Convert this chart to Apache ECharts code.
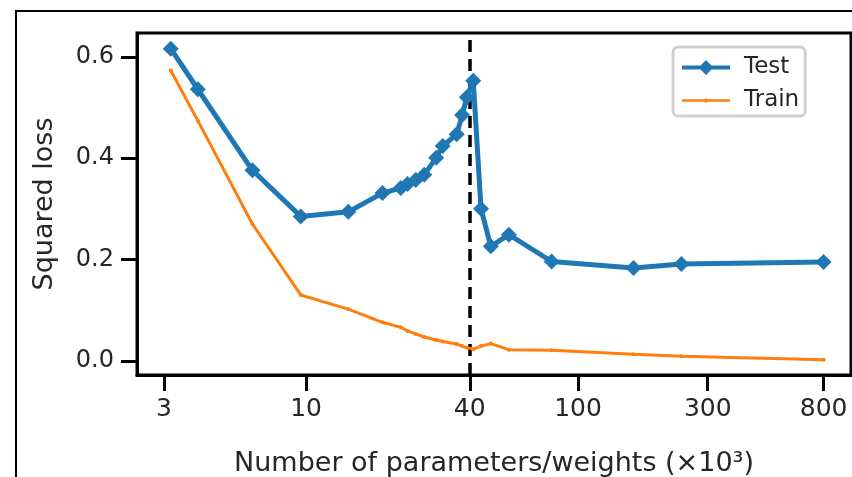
<!DOCTYPE html>
<html>
<head>
<meta charset="utf-8">
<script src="https://cdn.jsdelivr.net/npm/echarts@6/dist/echarts.min.js"></script>
<style>
  html, body { margin: 0; padding: 0; background: #fff; }
  #chart { width: 852px; height: 477px; }
</style>
</head>
<body>
<div id="chart"></div>
<script>
// number of parameters (x10^3), shared by both curves
const params = [3.18, 4, 6.35, 9.56, 14.3, 19.1, 22.3, 23.6, 25.3, 27.2, 30.1, 31.8, 35.8, 37.5, 39, 41.2, 44, 47.8, 55.7, 80, 160, 240, 800];
const testLoss = [0.616, 0.536, 0.376, 0.285, 0.294, 0.331, 0.341, 0.349, 0.357, 0.367, 0.401, 0.424, 0.447, 0.485, 0.520, 0.553, 0.300, 0.226, 0.249, 0.196, 0.183, 0.191, 0.195];
const trainLoss = [0.573, 0.474, 0.270, 0.130, 0.102, 0.076, 0.066, 0.059, 0.053, 0.047, 0.041, 0.038, 0.033, 0.029, 0.026, 0.023, 0.029, 0.034, 0.022, 0.021, 0.013, 0.009, 0.002];
const xTicks = [3, 10, 40, 100, 300, 800];
const yTicks = [0, 0.2, 0.4, 0.6];
const threshold = 40;

const txt = "#262626";
const font = "DejaVu Sans";

// legend icons (line + marker) drawn in a 48x15 box
const testIcon = "path://M0,5.5 L48,5.5 L48,9.5 L0,9.5 Z M24,0 L31.5,7.5 L24,15 L16.5,7.5 Z";
const trainIcon = "path://M0,0 L0,0 M48,15 L48,15 M0,6.2 L48,6.2 L48,8.8 L0,8.8 Z M22.5,5.5 L25.5,5.5 L25.5,9.5 L22.5,9.5 Z";

const chart = echarts.init(document.getElementById("chart"));

const option = {
  backgroundColor: "#fff",
  animation: false,
  textStyle: { fontFamily: font, color: txt },
  graphic: [
    {
      type: "rect",
      shape: { x: 16, y: 11, width: 900, height: 520 },
      style: { fill: "none", stroke: "#000", lineWidth: 2 },
      silent: true,
      z: -1
    }
  ],
  grid: {
    left: 137,
    top: 33,
    right: 1,
    bottom: 102,
    show: true,
    borderColor: "#000",
    borderWidth: 3,
    backgroundColor: "transparent",
    outerBoundsMode: "none"
  },
  legend: {
    left: 673,
    top: 47,
    orient: "vertical",
    itemWidth: 48,
    itemHeight: 15,
    itemGap: 10,
    padding: [9, 6, 4, 9],
    borderColor: "#d0d0d0",
    borderWidth: 3,
    borderRadius: 5,
    backgroundColor: "#fff",
    textStyle: { fontFamily: font, fontSize: 23, color: txt, padding: [0, 0, 0, 9] },
    data: [
      { name: "Test", icon: testIcon },
      { name: "Train", icon: trainIcon }
    ]
  },
  xAxis: {
    type: "log",
    logBase: 10,
    min: 2.39,
    max: 1009,
    name: "Number of parameters/weights (×10³)",
    nameLocation: "middle",
    nameGap: 75,
    nameTextStyle: { fontFamily: font, fontSize: 27, color: txt },
    // keep the line at the bottom: check zero against the hidden y axis
    axisLine: { show: true, onZeroAxisIndex: 1, lineStyle: { color: "#000", width: 3 } },
    axisTick: {
      show: true,
      length: 16,
      lineStyle: { color: "#000", width: 3 },
      customValues: xTicks
    },
    axisLabel: {
      fontFamily: font,
      fontSize: 25,
      color: txt,
      margin: 22,
      customValues: xTicks,
      formatter: (v) => String(Math.round(v))
    },
    splitLine: { show: false },
    minorTick: { show: false }
  },
  yAxis: [
    {
      type: "value",
      min: -0.028,
      max: 0.647,
      name: "Squared loss",
      nameLocation: "middle",
      nameGap: 79,
      nameTextStyle: { fontFamily: font, fontSize: 27, color: txt },
      axisLine: { show: true, lineStyle: { color: "#000", width: 3 } },
      axisTick: {
        show: true,
        length: 16,
        lineStyle: { color: "#000", width: 3 },
        customValues: yTicks
      },
      axisLabel: {
        fontFamily: font,
        fontSize: 24,
        color: txt,
        margin: 23,
        customValues: yTicks,
        formatter: (v) => v.toFixed(1)
      },
      splitLine: { show: false }
    },
    {
      type: "value",
      min: 1,
      max: 2,
      show: false
    }
  ],
  series: [
    {
      name: "Train",
      type: "line",
      data: params.map((p, i) => [p, trainLoss[i]]),
      symbol: "circle",
      symbolSize: 4,
      showSymbol: true,
      lineStyle: { color: "#ff7f0e", width: 3 },
      itemStyle: { color: "#ff7f0e" },
      z: 2
    },
    {
      name: "Test",
      type: "line",
      data: params.map((p, i) => [p, testLoss[i]]),
      symbol: "diamond",
      symbolSize: 16,
      showSymbol: true,
      lineStyle: { color: "#1f77b4", width: 5 },
      itemStyle: { color: "#1f77b4" },
      z: 3,
      markLine: {
        silent: true,
        symbol: "none",
        label: { show: false },
        lineStyle: { color: "#000", width: 3.5, type: [12, 7] },
        data: [{ xAxis: threshold }],
        z: 1
      }
    }
  ]
};

chart.setOption(option);
</script>
</body>
</html>
